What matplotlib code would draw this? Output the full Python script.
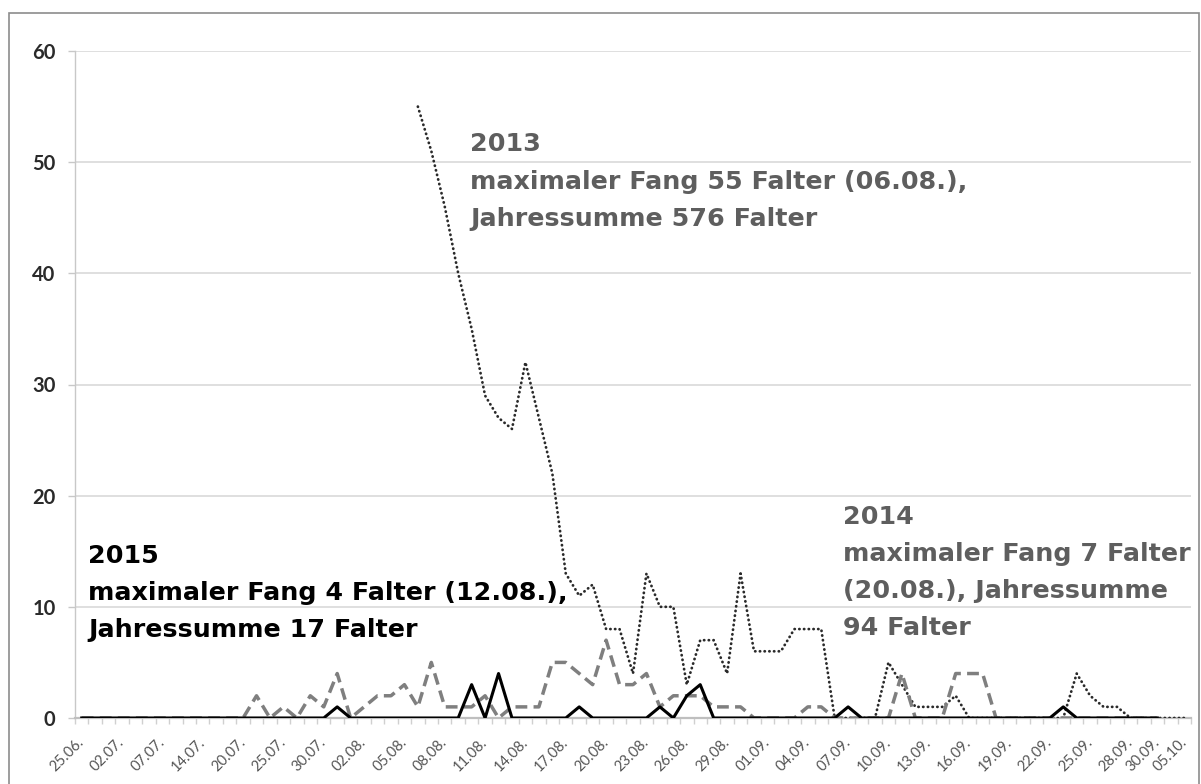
import numpy as np
import pandas as pd
import matplotlib
matplotlib.use("Agg")
import matplotlib.pyplot as plt
from matplotlib.patches import Rectangle

# Category axis: trap emptying dates (weekly-ish in July, daily from 30.07.)
early_dates = ["25.06.", "28.06.", "30.06.", "02.07.", "04.07.", "05.07.", "07.07.",
               "09.07.", "11.07.", "14.07.", "16.07.", "18.07.", "20.07.", "22.07.",
               "23.07.", "25.07.", "27.07.", "28.07.", "30.07.", "31.07.", "01.08."]
daily_dates = [d.strftime("%d.%m.") for d in pd.date_range("2015-08-02", "2015-09-30")]
late_dates = ["02.10.", "05.10."]
dates = early_dates + daily_dates + late_dates

tick_labels = ["25.06.", "02.07.", "07.07.", "14.07.", "20.07.", "25.07.", "30.07.",
               "02.08.", "05.08.", "08.08.", "11.08.", "14.08.", "17.08.", "20.08.",
               "23.08.", "26.08.", "29.08.", "01.09.", "04.09.", "07.09.", "10.09.",
               "13.09.", "16.09.", "19.09.", "22.09.", "25.09.", "28.09.", "30.09.",
               "05.10."]

# Moths caught per date
catch_2013 = [None] * 25 + [
    55, 51, 46, 40, 35, 29, 27, 26, 32, 27, 22, 13,
    11, 12, 8, 8, 4, 13, 10, 10, 3, 7, 7, 4, 13,
    6, 6, 6, 8, 8, 8,
    0, 0, 0, 0, 5, 3, 1, 1, 1, 2,
    0, 0, 0, 0, 0, 0, 0, 0,
    4, 2, 1, 1,
    0, 0, 0, 0, 0]

catch_2014 = [
    0, 0, 0, 0, 0, 0, 0, 0, 0, 0, 0, 0, 0,
    2, 0, 1, 0, 2, 1, 4, 0,
    1, 2, 2, 3, 1, 5, 1, 1, 1, 2, 0,
    1, 1, 1, 5, 5, 4, 3, 7, 3, 3, 4,
    1, 2, 2, 2, 1, 1, 1,
    0, 0, 0, 0, 1, 1,
    0, 0, 0, 0, 0, 4, 0, 0, 0,
    4, 4, 4,
    0, 0, 0, 0, 0, 0, 0, 0, 0, 0, 0, 0, 0]

catch_2015 = [
    0, 0, 0, 0, 0, 0, 0, 0, 0, 0, 0, 0, 0, 0, 0, 0, 0, 0, 0,
    1,
    0, 0, 0, 0, 0, 0, 0, 0, 0,
    3, 0, 4,
    0, 0, 0, 0, 0,
    1,
    0, 0, 0, 0, 0,
    1, 0, 2, 3,
    0, 0, 0, 0, 0, 0, 0, 0, 0, 0,
    1,
    0, 0, 0, 0, 0, 0, 0, 0, 0, 0, 0, 0, 0, 0, 0,
    1,
    0, 0, 0, 0, 0, 0, 0]

W, H = 1201, 784
fig = plt.figure(figsize=(W / 100, H / 100), dpi=100)
fig.patch.set_facecolor("white")


def fx(px):
    return px / W


def fy(py):
    return 1 - py / H


# outer chart border
fig.patches.append(Rectangle((fx(8.5), fy(800)), fx(1199) - fx(8.5), fy(13) - fy(800),
                             transform=fig.transFigure, fill=False,
                             edgecolor="#8c8c8c", linewidth=1.2))

ax = fig.add_axes([fx(75), fy(718), fx(1191) - fx(75), fy(51) - fy(718)])

y13 = np.array([np.nan if v is None else v for v in catch_2013], dtype=float)
ax.plot(np.arange(len(y13)), y13, color="#2a2a2a", lw=2.0,
        linestyle=(0, (0.1, 1.6)), dash_capstyle="round", zorder=3)
ax.plot(np.arange(len(catch_2014)), catch_2014, color="#7f7f7f", lw=2.5,
        linestyle=(0, (3.4, 1.8)), zorder=4)
ax.plot(np.arange(len(catch_2015)), catch_2015, color="black", lw=2.2, zorder=5)

ax.set_xlim(-0.5, len(dates) - 0.5)
ax.set_ylim(0, 60)
ax.set_yticks(range(0, 61, 10))
ax.grid(axis="y", color="#d9d9d9", lw=1.2)
ax.set_axisbelow(True)

for s in ("top", "right"):
    ax.spines[s].set_visible(False)
ax.spines["left"].set_color("#c8c8c8")
ax.spines["left"].set_linewidth(1.0)
ax.spines["bottom"].set_color("#bfbfbf")
ax.spines["bottom"].set_linewidth(1.6)

ax.tick_params(axis="y", length=5, width=1, color="#c8c8c8", pad=9,
               labelsize=14.5, labelcolor="#2a2a2a")
for lab in ax.get_yticklabels():
    lab.set_fontfamily("Lato")
    lab.set_fontweight("bold")

ax.set_xticks([dates.index(t) for t in tick_labels])
ax.set_xticklabels(tick_labels)
ax.set_xticks(np.arange(len(dates) + 1) - 0.5, minor=True)
ax.tick_params(axis="x", which="major", length=0, pad=16,
               labelsize=10.5, labelcolor="#555555")
ax.tick_params(axis="x", which="minor", length=4, width=1, color="#d0d0d0")
for lab in ax.get_xticklabels():
    lab.set_fontfamily("Lato")
    lab.set_rotation(45)
    lab.set_ha("right")
    lab.set_va("center")
    lab.set_rotation_mode("anchor")

# annotations for each season
fs = 18.3
gray_txt = "#5e5e5e"
blocks = [
    (470, [151, 189, 226], ["2013", "maximaler Fang 55 Falter (06.08.),",
                            "Jahressumme 576 Falter"], gray_txt),
    (88, [563, 600, 637], ["2015", "maximaler Fang 4 Falter (12.08.),",
                           "Jahressumme 17 Falter"], "black"),
    (843, [524, 561, 598, 635], ["2014", "maximaler Fang 7 Falter",
                                 "(20.08.), Jahressumme", "94 Falter"], gray_txt),
]
for x, ys, lines, col in blocks:
    for y, line in zip(ys, lines):
        fig.text(fx(x), fy(y), line, fontsize=fs, fontweight="bold",
                 family="DejaVu Sans", color=col, ha="left", va="baseline")

fig.savefig("out.png", dpi=100, facecolor="white")
